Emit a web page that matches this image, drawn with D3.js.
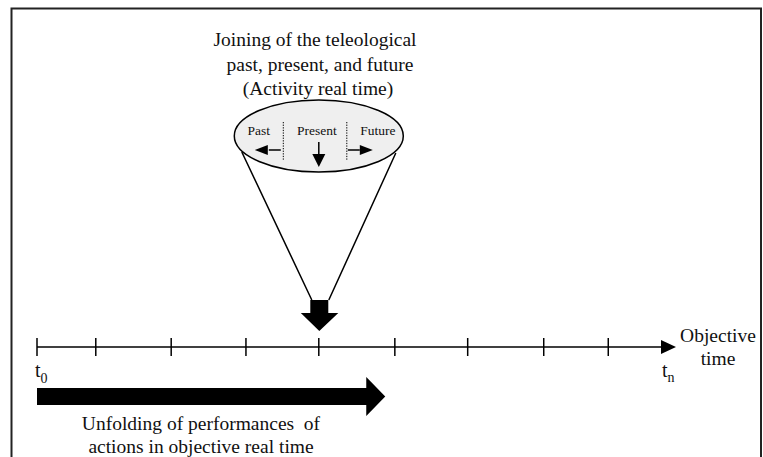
<!DOCTYPE html>
<html>
<head>
<meta charset="utf-8">
<script src="https://cdn.jsdelivr.net/npm/d3@7"></script>
<style>
  body { margin: 0; background: #fff; }
  text, tspan { font-family: "Liberation Serif", "Times New Roman", serif; fill: #111; }
</style>
</head>
<body>
<script>
// time positions along the objective axis (0 = t0, 100 = arrow tip)
const tickValues = [0, 9.2, 21.0, 32.7, 44.1, 56.0, 67.4, 79.3, 89.4];
const presentValue = 44.1;
const unfoldEnd = 54.5;
const axisEnd = 100;

const titleLines = ["Joining of the teleological", "past, present, and future", "(Activity real time)"];
const unfoldLines = ["Unfolding of performances  of", "actions in objective real time"];
const axisLabelLines = ["Objective", "time"];
const segments = ["Past", "Present", "Future"];

const W = 763, H = 457;
const axisY = 347;

const svg = d3.select("body").append("svg")
    .attr("width", W)
    .attr("height", H);

const x = d3.scaleLinear()
    .domain([0, axisEnd])
    .range([37, 676]);

// frame
svg.append("path")
    .attr("d", `M11.5,${H + 5} L11.5,8.5 L761,8.5 L761,${H + 5}`)
    .attr("fill", "none")
    .attr("stroke", "#222")
    .attr("stroke-width", 2);

// title
const titleX = [315, 320, 318];
svg.append("text")
    .attr("text-anchor", "middle")
    .attr("font-size", 19.5)
    .selectAll("tspan")
    .data(titleLines)
    .join("tspan")
    .attr("x", (d, i) => titleX[i])
    .attr("y", (d, i) => 46 + i * 24.5)
    .text(d => d);

// cone
const cx = x(presentValue);
const ellY = 136, rx = 84.5, ry = 36;

svg.append("path")
    .attr("d", `M${cx - 77},152 L${cx - 7},300 M${cx + 77},153 L${cx + 10},300`)
    .attr("fill", "none")
    .attr("stroke", "#000")
    .attr("stroke-width", 1.5);

svg.append("ellipse")
    .attr("cx", cx)
    .attr("cy", ellY)
    .attr("rx", rx)
    .attr("ry", ry)
    .attr("fill", "#efefef")
    .attr("stroke", "#000")
    .attr("stroke-width", 1.5);

// dotted dividers
svg.selectAll(".divider")
    .data([-35.5, 28])
    .join("line")
    .attr("class", "divider")
    .attr("x1", d => cx + d)
    .attr("x2", d => cx + d)
    .attr("y1", 122)
    .attr("y2", 160)
    .attr("stroke", "#000")
    .attr("stroke-width", 1)
    .attr("stroke-dasharray", "1.3,1.3");

const segX = [cx - 60, cx - 2, cx + 59];
svg.selectAll(".seg")
    .data(segments)
    .join("text")
    .attr("class", "seg")
    .attr("x", (d, i) => segX[i])
    .attr("y", 135)
    .attr("text-anchor", "middle")
    .attr("font-size", 13.5)
    .text(d => d);

// small arrows inside the ellipse
const small = svg.append("g").attr("stroke", "#000").attr("stroke-width", 1.5);
small.append("line").attr("x1", cx - 38).attr("x2", cx - 50).attr("y1", 150).attr("y2", 150);
small.append("line").attr("x1", cx + 29).attr("x2", cx + 41).attr("y1", 150).attr("y2", 150);
small.append("line").attr("x1", cx).attr("x2", cx).attr("y1", 142).attr("y2", 155);
const heads = svg.append("g").attr("fill", "#000");
heads.append("path").attr("d", `M${cx - 64},150 L${cx - 51},145 L${cx - 51},155 Z`);
heads.append("path").attr("d", `M${cx + 54},150 L${cx + 41},145 L${cx + 41},155 Z`);
heads.append("path").attr("d", `M${cx},167 L${cx - 6.5},154 L${cx + 6.5},154 Z`);

// big down arrow into the present tick
svg.append("path")
    .attr("d", `M${cx - 8.5},300 L${cx + 9.5},300 L${cx + 9.5},313 L${cx + 19.5},313 L${cx + 0.5},331 L${cx - 18},313 L${cx - 8.5},313 Z`)
    .attr("fill", "#000");

// objective time axis
svg.append("line")
    .attr("x1", x(0))
    .attr("x2", x(axisEnd) - 12)
    .attr("y1", axisY)
    .attr("y2", axisY)
    .attr("stroke", "#000")
    .attr("stroke-width", 1.5);

svg.append("path")
    .attr("d", `M${x(axisEnd)},${axisY} L${x(axisEnd) - 15},${axisY - 7} L${x(axisEnd) - 15},${axisY + 7} Z`)
    .attr("fill", "#000");

svg.selectAll(".tick")
    .data(tickValues)
    .join("line")
    .attr("class", "tick")
    .attr("x1", d => x(d))
    .attr("x2", d => x(d))
    .attr("y1", axisY - 9)
    .attr("y2", axisY + 9)
    .attr("stroke", "#000")
    .attr("stroke-width", 1.5);

// t0 and tn
const t0 = svg.append("text").attr("x", x(0) - 2).attr("y", 377).attr("font-size", 20);
t0.append("tspan").text("t");
t0.append("tspan").attr("dy", 6).attr("font-size", 14).attr("fill", "#111").text("0");

const tn = svg.append("text").attr("x", x(axisEnd) - 14).attr("y", 377).attr("font-size", 20);
tn.append("tspan").text("t");
tn.append("tspan").attr("dy", 5).attr("font-size", 14).attr("fill", "#111").text("n");

svg.append("text")
    .attr("text-anchor", "middle")
    .attr("font-size", 19.5)
    .selectAll("tspan")
    .data(axisLabelLines)
    .join("tspan")
    .attr("x", 718)
    .attr("y", (d, i) => 342 + i * 23)
    .text(d => d);

// unfolding arrow
const ux = x(unfoldEnd);
svg.append("path")
    .attr("d", `M${x(0)},388 L${ux - 19},388 L${ux - 19},377 L${ux},396.5 L${ux - 19},416 L${ux - 19},405 L${x(0)},405 Z`)
    .attr("fill", "#000");

svg.append("text")
    .attr("text-anchor", "middle")
    .attr("font-size", 19.5)
    .selectAll("tspan")
    .data(unfoldLines)
    .join("tspan")
    .attr("x", 201)
    .attr("y", (d, i) => 430 + i * 23)
    .style("white-space", "pre")
    .text(d => d);
</script>
</body>
</html>
